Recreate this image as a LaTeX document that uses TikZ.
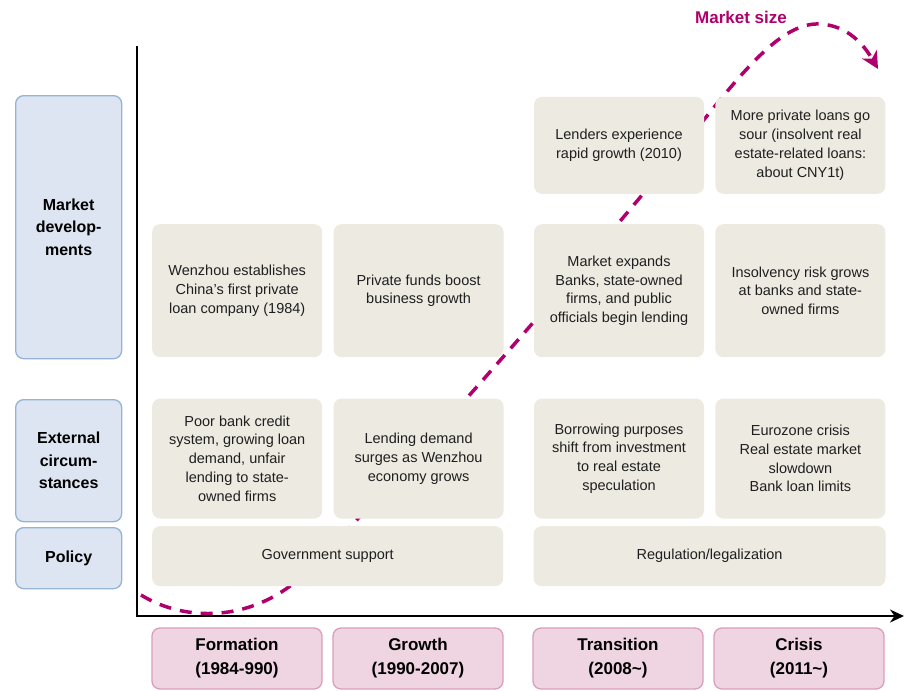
\documentclass[tikz,border=0pt]{standalone}
\usepackage{fontspec}
\setmainfont{Liberation Sans}
\usepackage{xcolor}
\usepackage{tikz}
\usetikzlibrary{arrows.meta, positioning}

\definecolor{labelFill}{HTML}{DCE5F1}
\definecolor{labelBorder}{HTML}{95B3D7}
\definecolor{eventFill}{HTML}{ECEAE1}
\definecolor{phaseFill}{HTML}{EFD5E1}
\definecolor{phaseBorder}{HTML}{DA9DBD}
\definecolor{sizeMagenta}{HTML}{B0006E}

\begin{document}
\begin{tikzpicture}[
        x=1pt, y=-1pt,
        rowlabel/.style={draw=labelBorder, fill=labelFill, line width=1.3pt, rounded corners=8pt, minimum width=106pt, align=center, font=\bfseries\fontsize{16}{22.5}\selectfont},
        event/.style={fill=eventFill, rounded corners=8pt, minimum width=170pt, align=center, text=black!88, font=\fontsize{14.5}{18.8}\selectfont},
        phase/.style={draw=phaseBorder, fill=phaseFill, line width=1.3pt, outer sep=0pt, rounded corners=8pt, minimum width=170pt, minimum height=61pt, align=center, font=\bfseries\fontsize{17}{24}\selectfont},
        sizecurve/.style={draw=sizeMagenta, line width=3.5pt, dash pattern=on 12pt off 9pt, -{Stealth[length=17pt, width=17pt, inset=5pt]}},
        axis/.style={line width=1.8pt, -{Stealth[length=14pt, width=13pt]}}
    ]
    \useasboundingbox (0,0) rectangle (908,691);

    % Market size curve, boxes are drawn over it
    \coordinate (curveStart) at (141,595);
    \coordinate (curveEnd) at (878,69);
    \draw[sizecurve] (curveStart) .. controls (185,622) and (250,622) .. (300,578)
        .. controls (340,543) and (562,295) .. (694,132)
        .. controls (744,70) and (782,22) .. (820,24)
        .. controls (848,25.5) and (864,45) .. (curveEnd);
    \node[text=sizeMagenta, font=\bfseries\fontsize{17}{20}\selectfont] (sizeLabel) at (741,17) {Market size};

    % Axes
    \coordinate (yTop) at (137,46);
    \coordinate (origin) at (137,616);
    \coordinate (xEnd) at (904,616);
    \draw[axis] (yTop) -- (origin) -- (xEnd);

    % Row labels
    \node[rowlabel, minimum height=263pt, anchor=north west] (marketDev) at (15,95) {Market\\develop-\\ments};
    \node[rowlabel, minimum height=122pt, anchor=north west] (externalCirc) at (15,399) {External\\circum-\\stances};
    \node[rowlabel, minimum height=61pt, anchor=north west] (policyLabel) at (15,527) {Policy};

    % Market developments
    \node[event, minimum height=133pt, anchor=north west] (wenzhou) at (152,224) {Wenzhou establishes\\China's first private\\loan company (1984)};
    \node[event, minimum height=133pt, right=11pt of wenzhou] (privateFunds) {Private funds boost\\business growth};
    \node[event, minimum height=133pt, right=30pt of privateFunds] (marketExpands) {Market expands\\Banks, state-owned\\firms, and public\\officials begin lending};
    \node[event, minimum height=133pt, right=11pt of marketExpands] (insolvencyRisk) {Insolvency risk grows\\at banks and state-\\owned firms};
    \node[event, minimum height=97pt, above=30pt of marketExpands] (rapidGrowth) {Lenders experience\\rapid growth (2010)};
    \node[event, minimum height=97pt, above=30pt of insolvencyRisk] (loansSour) {More private loans go\\sour (insolvent real\\estate-related loans:\\about CNY1t)};

    % External circumstances
    \node[event, minimum height=120pt, below=41pt of wenzhou] (poorCredit) {Poor bank credit\\system, growing loan\\demand, unfair\\lending to state-\\owned firms};
    \node[event, minimum height=120pt, right=11pt of poorCredit] (demandSurges) {Lending demand\\surges as Wenzhou\\economy grows};
    \node[event, minimum height=120pt, right=30pt of demandSurges] (purposeShift) {Borrowing purposes\\shift from investment\\to real estate\\speculation};
    \node[event, minimum height=120pt, right=11pt of purposeShift] (eurozone) {Eurozone crisis\\Real estate market\\slowdown\\Bank loan limits};

    % Policy
    \node[event, minimum width=351pt, minimum height=60pt, anchor=north west] (govSupport) at (152,526) {Government support};
    \node[event, minimum width=352pt, minimum height=60pt, right=30pt of govSupport] (regulation) {Regulation/legalization};

    % Phases
    \node[phase, anchor=north west] (formation) at (152,628) {Formation\\(1984-990)};
    \node[phase, right=11pt of formation] (growth) {Growth\\(1990-2007)};
    \node[phase, right=30pt of growth] (transition) {Transition\\(2008\textasciitilde)};
    \node[phase, right=11pt of transition] (crisis) {Crisis\\(2011\textasciitilde)};

\end{tikzpicture}
\end{document}
